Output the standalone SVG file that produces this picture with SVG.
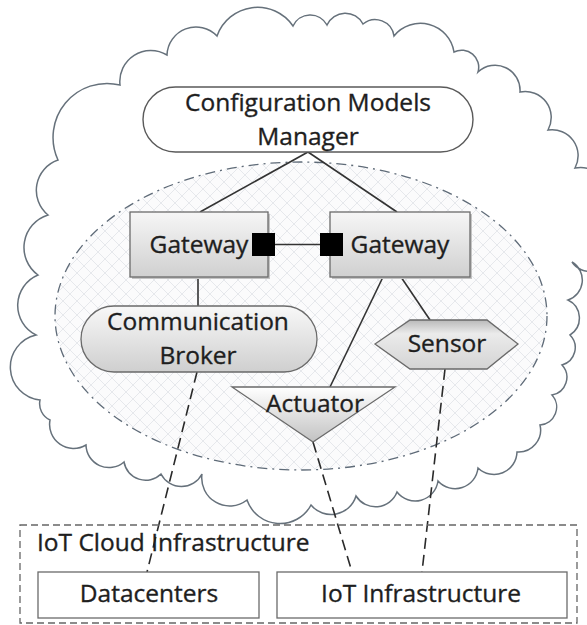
<svg xmlns="http://www.w3.org/2000/svg" width="587" height="625" viewBox="0 0 587 625">
  <defs>
    <style>
      .lbl { font-family: "Open Sans", "Liberation Sans", sans-serif; font-size: 24.5px; fill: #1e1e1e; stroke: #1e1e1e; stroke-width: 0.35; text-anchor: middle; }
      .lblL { font-family: "Open Sans", "Liberation Sans", sans-serif; font-size: 24.5px; fill: #1e1e1e; stroke: #1e1e1e; stroke-width: 0.35; }
      .edge { stroke: #6a6a6a; stroke-width: 1.3; }
      .solid { stroke: #333; stroke-width: 1.6; fill: none; }
      .dash { stroke: #2a2a2a; stroke-width: 1.6; fill: none; stroke-dasharray: 11 6; }
      .shadow { fill: #c4c4c4; }
    </style>
    <linearGradient id="gwGrad" x1="0" y1="0" x2="0" y2="1">
      <stop offset="0" stop-color="#f6f6f6"/>
      <stop offset="1" stop-color="#d0d0d0"/>
    </linearGradient>
    <linearGradient id="brokerGrad" x1="0" y1="0" x2="0" y2="1">
      <stop offset="0" stop-color="#f8f8f8"/>
      <stop offset="1" stop-color="#cfcfcf"/>
    </linearGradient>
    <linearGradient id="sensorGrad" x1="0" y1="0" x2="0" y2="1">
      <stop offset="0" stop-color="#b9b9b9"/>
      <stop offset="0.28" stop-color="#ebebeb"/>
      <stop offset="1" stop-color="#d4d4d4"/>
    </linearGradient>
    <linearGradient id="actGrad" x1="0" y1="0" x2="0" y2="1">
      <stop offset="0" stop-color="#ffffff"/>
      <stop offset="1" stop-color="#c2c2c2"/>
    </linearGradient>
    <pattern id="hatch" width="14" height="14" patternUnits="userSpaceOnUse">
      <rect width="14" height="14" fill="#fbfbfc"/>
      <path d="M0 0 L14 14 M14 0 L0 14" stroke="#e6e8ec" stroke-width="1"/>
    </pattern>
  </defs>

  <rect width="587" height="625" fill="#ffffff"/>

  <!-- cloud outline: arcs between valley points, bulging outward -->
  <g id="cloud">
    <path fill="#ffffff" stroke="#66717b" stroke-width="1.5" d="M40 400
      A33 33 0 0 1 36 335 A33 33 0 0 1 38 275 A34 34 0 0 1 48 215 A32 32 0 0 1 58 160
      A54 54 0 0 1 120 85 A31 31 0 0 1 167 55 A29 29 0 0 1 217 36 A43 43 0 0 1 293 26
      A19 19 0 0 1 327 25 A20 20 0 0 1 363 24 A19 19 0 0 1 394 36 A34 34 0 0 1 454 52
      A17 17 0 0 1 478 72 A25 25 0 0 1 520 92 A26 26 0 0 1 548 130 A26 26 0 0 1 575 168
      A30 30 0 0 1 610 200 A30 30 0 0 1 610 255 A21 21 0 0 1 572 262 A21 21 0 0 1 568 300
      A20 20 0 0 1 570 335 A18 18 0 0 1 562 365 A18 18 0 0 1 552 395 A18 18 0 0 1 540 425
      A22 22 0 0 1 517 452 A23 23 0 0 1 478 468 A23 23 0 0 1 438 481 A23 23 0 0 1 397 492
      A23 23 0 0 1 356 496 A26 26 0 0 1 311 505 A35 35 0 0 1 247 500 A28 28 0 0 1 202 474
      A23 23 0 0 1 161 474 A22 22 0 0 1 124 462 A23 23 0 0 1 86 445 A24 24 0 0 1 50 420
      A18 18 0 0 1 40 400 Z"/>
  </g>

  <!-- IoT device area -->
  <g id="device-area">
    <ellipse cx="301" cy="316" rx="246" ry="154" fill="url(#hatch)" stroke="#5f6b78" stroke-width="1.3" stroke-dasharray="10 5 2 5"/>
  </g>

  <!-- connectors -->
  <g id="connectors">
    <line class="solid" x1="308" y1="152" x2="200" y2="212"/>
    <line class="solid" x1="308" y1="152" x2="397" y2="212"/>
    <line class="solid" x1="275" y1="244.5" x2="320" y2="244.5"/>
    <line class="solid" x1="198" y1="277" x2="198" y2="306"/>
    <line class="solid" x1="383" y1="277" x2="330" y2="387"/>
    <line class="solid" x1="401" y1="277" x2="430" y2="320"/>
    <line class="dash" x1="197" y1="372" x2="147" y2="572"/>
    <line class="dash" x1="313" y1="442" x2="352" y2="572"/>
    <line class="dash" x1="445" y1="369" x2="422" y2="572"/>
  </g>

  <g id="config-manager">
    <rect x="143" y="87" width="330" height="65" rx="32.5" fill="#ffffff" stroke="#5a5a5a" stroke-width="1.4"/>
    <text class="lbl" x="308" y="111">Configuration Models</text>
    <text class="lbl" x="308" y="145">Manager</text>
  </g>

  <g id="gateway-left">
    <rect class="shadow" x="132" y="214" width="138" height="65"/>
    <rect class="edge" x="130" y="212" width="138" height="65" fill="url(#gwGrad)"/>
    <text class="lbl" x="199" y="253">Gateway</text>
    <rect x="252" y="233" width="23" height="23" fill="#000"/>
  </g>

  <g id="gateway-right">
    <rect class="shadow" x="332" y="214" width="140" height="65"/>
    <rect class="edge" x="330" y="212" width="140" height="65" fill="url(#gwGrad)"/>
    <text class="lbl" x="400" y="253">Gateway</text>
    <rect x="320" y="233" width="23" height="23" fill="#000"/>
  </g>

  <g id="communication-broker">
    <rect class="edge" x="81" y="306" width="236" height="66" rx="33" fill="url(#brokerGrad)"/>
    <text class="lbl" x="198" y="330">Communication</text>
    <text class="lbl" x="198" y="364">Broker</text>
  </g>

  <g id="sensor">
    <polygon class="edge" points="375,344 410,320 487,320 518,344 487,369 410,369" fill="url(#sensorGrad)"/>
    <text class="lbl" x="447" y="352">Sensor</text>
  </g>

  <g id="actuator">
    <polygon class="edge" points="232,387 395,387 313,442" fill="url(#actGrad)"/>
    <text class="lbl" x="315" y="412">Actuator</text>
  </g>

  <g id="iot-cloud-infrastructure">
    <rect x="20" y="525" width="557" height="98" fill="none" stroke="#666" stroke-width="1.3" stroke-dasharray="7 4"/>
    <text class="lblL" x="37" y="551">IoT Cloud Infrastructure</text>
  </g>

  <g id="datacenters">
    <rect x="38" y="572" width="221" height="46" fill="#ffffff" stroke="#6a6a6a" stroke-width="1.3"/>
    <text class="lbl" x="149" y="602">Datacenters</text>
  </g>

  <g id="iot-infrastructure">
    <rect x="277" y="572" width="290" height="46" fill="#ffffff" stroke="#6a6a6a" stroke-width="1.3"/>
    <text class="lbl" x="421" y="602">IoT Infrastructure</text>
  </g>
</svg>
